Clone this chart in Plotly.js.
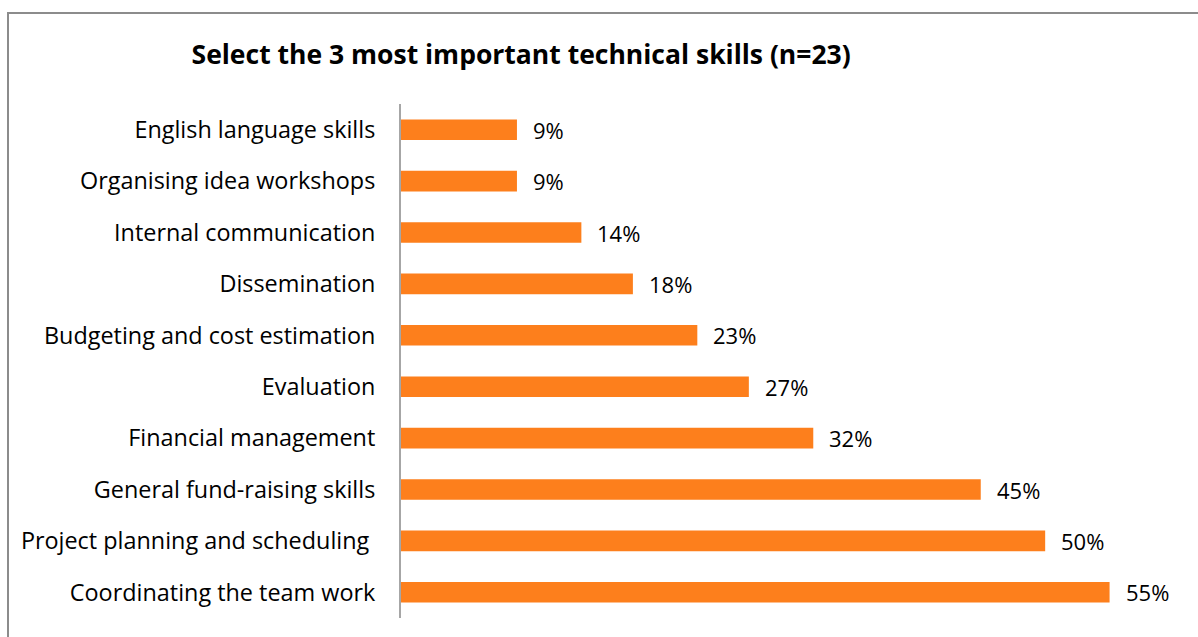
<!DOCTYPE html>
<html>
<head>
<meta charset="utf-8">
<script src="https://cdn.plot.ly/plotly-3.0.1.min.js"></script>
<style>
  html, body { margin: 0; padding: 0; background: #fff; }
  #wrap { position: relative; width: 1198px; height: 637px; }
  #chart { width: 1198px; height: 637px; }
  #frame { position: absolute; left: 7px; top: 12px; width: 1191px; height: 625px;
           border-top: 2px solid #8c8c8c; border-left: 2px solid #8c8c8c; box-sizing: border-box; pointer-events: none; }
</style>
</head>
<body>
<div id="wrap">
  <div id="chart"></div>
  <div id="frame"></div>
</div>
<script>
const categories = [
  "English language skills",
  "Organising idea workshops",
  "Internal communication",
  "Dissemination",
  "Budgeting and cost estimation",
  "Evaluation",
  "Financial management",
  "General fund-raising skills",
  "Project planning and scheduling ",
  "Coordinating the team work"
];
const values = [9, 9, 14, 18, 23, 27, 32, 45, 50, 55];
const valueLabels = values.map(v => v + "%");
const chartTitle = "Select the 3 most important technical skills (n=23)";

const FONT = "'Open Sans', sans-serif";

const trace = {
  type: "bar",
  orientation: "h",
  y: categories,
  x: values,
  marker: { color: "#fd7f1c" },
  hoverinfo: "skip",
  width: 0.4
};

const annotations = categories.map((c, i) => ({
  x: values[i], y: c, xref: "x", yref: "y",
  text: valueLabels[i], showarrow: false,
  xanchor: "left", yanchor: "middle", xshift: 14,
  font: { family: FONT, size: 22, color: "#000" }
}));

const layout = {
  width: 1198, height: 637,
  margin: { l: 401, r: 24, t: 104, b: 19, pad: 0 },
  paper_bgcolor: "#fff", plot_bgcolor: "#fff",
  showlegend: false,
  title: {
    text: "<b>" + chartTitle + "</b>",
    xref: "container", yref: "container",
    x: 0.435, xanchor: "center", y: 0.914, yanchor: "middle",
    font: { family: FONT, size: 26.5, color: "#000" }
  },
  xaxis: {
    range: [0, 60], showgrid: false, zeroline: false, showline: false,
    showticklabels: false, ticks: "", fixedrange: true
  },
  yaxis: {
    type: "category", autorange: "reversed", showgrid: false, zeroline: false,
    showline: true, linecolor: "#a6a6a6", linewidth: 2,
    ticks: "", ticklabelstandoff: 19,
    tickfont: { family: FONT, size: 23.4, color: "#000" },
    fixedrange: true
  },
  annotations: annotations
};

Plotly.newPlot("chart", [trace], layout, { displayModeBar: false, staticPlot: true });
</script>
</body>
</html>
